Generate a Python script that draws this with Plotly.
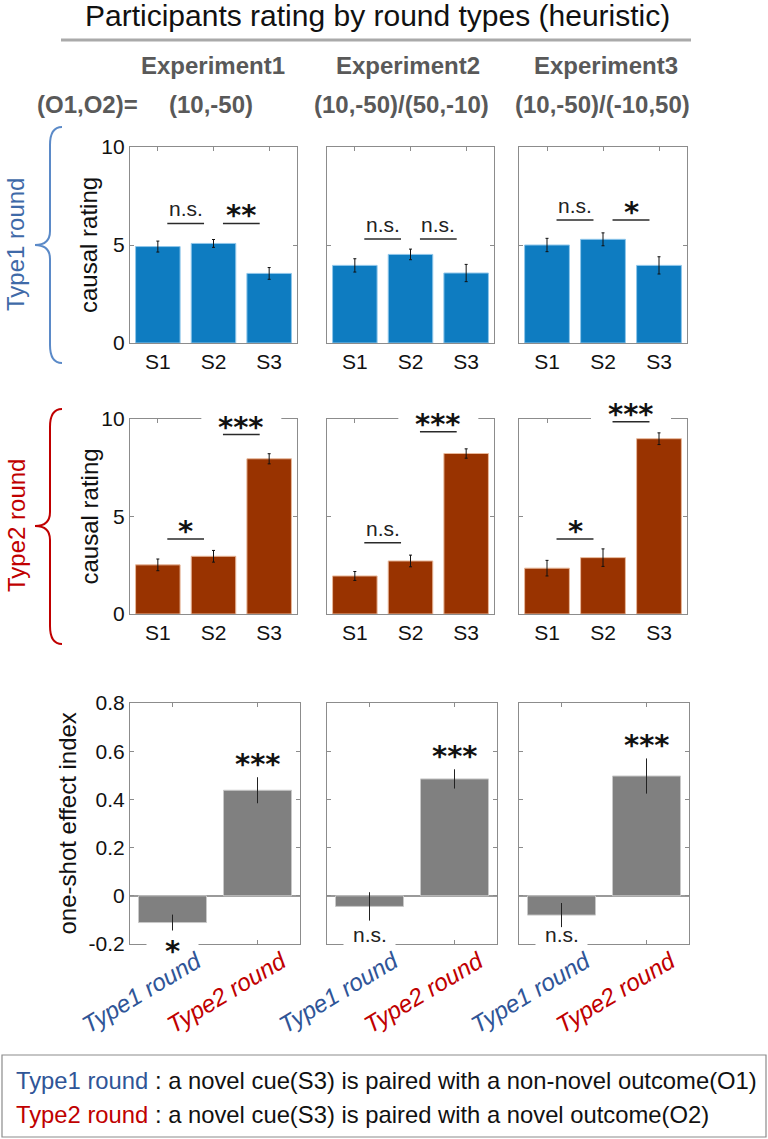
import plotly.graph_objects as go
from plotly.subplots import make_subplots

W, H = 768, 1139

# ---- data ----
experiments = ['Experiment1', 'Experiment2', 'Experiment3']
outcome_pairs = ['(10,-50)', '(10,-50)/(50,-10)', '(10,-50)/(-10,50)']
stimuli = ['S1', 'S2', 'S3']
round_types = ['Type1 round', 'Type2 round']

type1_means = [[4.92, 5.08, 3.55], [3.96, 4.52, 3.57], [5.00, 5.29, 3.96]]
type1_sems = [[0.28, 0.20, 0.30], [0.34, 0.27, 0.44], [0.34, 0.33, 0.44]]
type1_sig = [['n.s.', '**'], ['n.s.', 'n.s.'], ['n.s.', '*']]
type1_sig_y = [[6.1, 6.1], [5.3, 5.3], [6.27, 6.27]]

type2_means = [[2.52, 2.96, 7.96], [1.95, 2.72, 8.23], [2.35, 2.89, 8.99]]
type2_sems = [[0.30, 0.30, 0.26], [0.23, 0.30, 0.24], [0.40, 0.45, 0.30]]
type2_sig = [['*', '***'], ['n.s.', '***'], ['*', '***']]
type2_sig_y = [[3.85, 9.2], [3.66, 9.35], [3.85, 9.86]]

index_means = [[-0.111, 0.438], [-0.044, 0.485], [-0.080, 0.497]]
index_sems = [[0.033, 0.054], [0.059, 0.040], [0.050, 0.073]]
index_sig = [['*', '***'], ['n.s.', '***'], ['n.s.', '***']]

rating_ticks = [0, 5, 10]
index_ticks = [-0.2, 0, 0.2, 0.4, 0.6, 0.8]
index_ticktext = ['-0.2', '0', '0.2', '0.4', '0.6', '0.8']

# ---- style ----
BLUE_BAR = '#0E7CC1'
RED_BAR = '#993300'
GRAY_BAR = '#808080'
TYPE1_TXT = '#2F5597'
TYPE2_TXT = '#C00000'
FRAME = '#8C8C8C'
FONT = 'Liberation Sans, Arial, sans-serif'
STAR_FONT = 'DejaVu Sans, sans-serif'

# pixel layout of the panels
col_px = [(130, 297), (327, 494), (519, 687)]
col_px_bot = [(130, 300), (327, 497), (519, 689)]
row_px = [(147, 343), (419, 614), (703, 944)]


def X(p):
    return p / W


def Y(p):
    return 1 - p / H


def to_px(v, lo, hi, p0, p1):
    return p0 + (v - lo) / (hi - lo) * (p1 - p0)


def label(x, y, text, size, color='#111', **kw):
    d = dict(xref='paper', yref='paper', x=X(x), y=Y(y), text=text, showarrow=False,
             xanchor='center', yanchor='middle', font=dict(family=FONT, size=size, color=color))
    d.update(kw)
    return d


fig = make_subplots(rows=3, cols=3)

shapes = []
annotations = []

for c in range(3):
    fig.add_trace(go.Bar(
        x=[0, 1, 2], y=type1_means[c], width=0.8,
        marker=dict(color=BLUE_BAR, line=dict(color='#8FC6EA', width=1)),
        error_y=dict(type='data', array=type1_sems[c], color='#111', thickness=1, width=1.5),
        showlegend=False), row=1, col=c + 1)
    fig.add_trace(go.Bar(
        x=[0, 1, 2], y=type2_means[c], width=0.8,
        marker=dict(color=RED_BAR, line=dict(color='#E8B89A', width=1)),
        error_y=dict(type='data', array=type2_sems[c], color='#111', thickness=1, width=1.5),
        showlegend=False), row=2, col=c + 1)
    fig.add_trace(go.Bar(
        x=[0, 1], y=index_means[c], width=0.8,
        marker=dict(color=GRAY_BAR, line=dict(color='#C8C8C8', width=1)),
        error_y=dict(type='data', array=index_sems[c], color='#222', thickness=1, width=0),
        showlegend=False), row=3, col=c + 1)

# ---- axes ----
for r in range(3):
    for c in range(3):
        n = r * 3 + c + 1
        xs = '' if n == 1 else str(n)
        xd = col_px_bot[c] if r == 2 else col_px[c]
        yd = row_px[r]
        common = dict(showline=True, linecolor=FRAME, linewidth=1.2, mirror='ticks',
                      ticks='inside', ticklen=4, tickcolor=FRAME, showgrid=False, automargin=False,
                      tickfont=dict(family=FONT, size=21, color='#111'), layer='below traces')
        if r < 2:
            fig.layout['xaxis' + xs].update(domain=[X(xd[0]), X(xd[1])], range=[-0.5, 2.5],
                                            tickvals=[0, 1, 2], ticktext=stimuli,
                                            zeroline=False, **common)
            fig.layout['yaxis' + xs].update(domain=[Y(yd[1]), Y(yd[0])], range=[0, 10],
                                            tickvals=rating_ticks, showticklabels=(c == 0),
                                            zeroline=False, **common)
        else:
            fig.layout['xaxis' + xs].update(domain=[X(xd[0]), X(xd[1])], range=[-0.5, 1.5],
                                            tickvals=[0, 1], showticklabels=False,
                                            zeroline=False, **common)
            fig.layout['yaxis' + xs].update(domain=[Y(yd[1]), Y(yd[0])], range=[-0.2, 0.8],
                                            tickvals=index_ticks, ticktext=index_ticktext,
                                            showticklabels=(c == 0), zeroline=True,
                                            zerolinecolor='#9A9A9A', zerolinewidth=1.5, **common)


def star_font():
    return dict(family=STAR_FONT, size=29, color='#111', weight='bold')


def add_sig(n, i, text, y):
    ref = '' if n == 1 else str(n)
    shapes.append(dict(type='line', xref='x' + ref, yref='y' + ref,
                       x0=i + 0.17, x1=i + 0.83, y0=y, y1=y,
                       line=dict(color='#2A2A2A', width=1.5), layer='above'))
    if text == 'n.s.':
        annotations.append(dict(xref='x' + ref, yref='y' + ref, x=i + 0.5, y=y, text=text,
                                showarrow=False, xanchor='center', yanchor='bottom', yshift=1,
                                font=dict(family=FONT, size=21, color='#222')))
    else:
        annotations.append(dict(xref='x' + ref, yref='y' + ref, x=i + 0.5, y=y, text=text,
                                showarrow=False, xanchor='center', yanchor='bottom', yshift=-11,
                                font=star_font()))


for c in range(3):
    for i in range(2):
        add_sig(1 + c, i, type1_sig[c][i], type1_sig_y[c][i])
        add_sig(4 + c, i, type2_sig[c][i], type2_sig_y[c][i])
    # white gap in the top frame behind the big stars
    cx = to_px(1.5, -0.5, 2.5, *col_px[c])
    shapes.insert(0, dict(type='rect', xref='paper', yref='paper',
                          x0=X(cx - 40), x1=X(cx + 40), y0=Y(426), y1=Y(413),
                          fillcolor='white', line=dict(width=0), layer='above'))

    ref = str(7 + c)
    # bottom-row significance, sitting on the lower frame
    bx = to_px(0, -0.5, 1.5, *col_px_bot[c])
    shapes.insert(0, dict(type='rect', xref='paper', yref='paper',
                          x0=X(bx - 26), x1=X(bx + 26), y0=Y(950), y1=Y(938),
                          fillcolor='white', line=dict(width=0), layer='above'))
    if index_sig[c][0] == 'n.s.':
        annotations.append(dict(xref='x' + ref, yref='y' + ref, x=0, y=-0.2, text='n.s.',
                                showarrow=False, xanchor='center', yanchor='bottom', yshift=-4,
                                font=dict(family=FONT, size=21, color='#222')))
    else:
        annotations.append(dict(xref='x' + ref, yref='y' + ref, x=0, y=-0.2, text=index_sig[c][0],
                                showarrow=False, xanchor='center', yanchor='middle', yshift=-7,
                                font=star_font()))
    annotations.append(dict(xref='x' + ref, yref='y' + ref, x=1,
                            y=index_means[c][1] + index_sems[c][1], text=index_sig[c][1],
                            showarrow=False, xanchor='center', yanchor='bottom', yshift=-6,
                            font=star_font()))
    # slanted category labels
    for k, name in enumerate(round_types):
        annotations.append(dict(xref='x' + ref, yref='paper', x=k, y=Y(993), xshift=-31,
                                text='<i>%s</i>' % name, textangle=-31, showarrow=False,
                                xanchor='center', yanchor='middle',
                                font=dict(family=FONT, size=24,
                                          color=TYPE1_TXT if k == 0 else TYPE2_TXT)))

# ---- headers and side labels ----
annotations.append(label(377, 16, 'Participants rating by round types (heuristic)', 30))
shapes.append(dict(type='line', xref='paper', yref='paper', x0=X(61), x1=X(691), y0=Y(40), y1=Y(40),
                   line=dict(color='#AAAAAA', width=3)))
exp_cx = [213, 408, 606]
pair_cx = [211, 401, 602]
for c in range(3):
    annotations.append(label(exp_cx[c], 65, '<b>%s</b>' % experiments[c], 24, '#595959'))
    annotations.append(label(pair_cx[c], 104, '<b>%s</b>' % outcome_pairs[c], 24, '#595959'))
annotations.append(label(87, 104, '<b>(O1,O2)=</b>', 24, '#595959'))

for r, title in enumerate(['causal rating', 'causal rating', 'one-shot effect index']):
    cx = 67 if r == 2 else 89
    annotations.append(label(cx, sum(row_px[r]) / 2, title, 24, textangle=-90))


def brace(top, mid, bot):
    xr, xv, xp = 62, 50, 35
    return ('M {},{} Q {},{} {},{} L {},{} Q {},{} {},{} Q {},{} {},{} L {},{} Q {},{} {},{}'.format(
        X(xr), Y(top), X(xv), Y(top), X(xv), Y(top + 18),
        X(xv), Y(mid - 14), X(xv), Y(mid), X(xp), Y(mid),
        X(xv), Y(mid), X(xv), Y(mid + 14),
        X(xv), Y(bot - 18), X(xv), Y(bot), X(xr), Y(bot)))


shapes.append(dict(type='path', xref='paper', yref='paper', path=brace(127, 245, 363),
                   line=dict(color='#5B8AC8', width=2)))
shapes.append(dict(type='path', xref='paper', yref='paper', path=brace(409, 526, 644),
                   line=dict(color='#C00000', width=2)))
annotations.append(label(16, 245, 'Type1 round', 24, '#3F6AA8', textangle=-90))
annotations.append(label(16, 526, 'Type2 round', 24, TYPE2_TXT, textangle=-90))

# ---- explanation box ----
shapes.append(dict(type='rect', xref='paper', yref='paper', x0=X(2), x1=X(766), y0=Y(1137), y1=Y(1055),
                   line=dict(color='#8C8C8C', width=1.2)))
legend_lines = [
    ('Type1 round', TYPE1_TXT, ' : a novel cue(S3) is paired with a non-novel outcome(O1)'),
    ('Type2 round', TYPE2_TXT, ' : a novel cue(S3) is paired with a novel outcome(O2)'),
]
for k, (name, col, desc) in enumerate(legend_lines):
    annotations.append(label(14, 1080 + 34 * k, '<span style="color:%s">%s</span>%s' % (col, name, desc),
                             23.8, xanchor='left'))

fig.update_layout(width=W, height=H, margin=dict(l=0, r=0, t=0, b=0, autoexpand=False),
                  paper_bgcolor='white', plot_bgcolor='white',
                  shapes=shapes, annotations=annotations, bargap=0.2)

fig.write_html('out.html', config={'displayModeBar': False},
               post_script="document.body.style.margin='0';")
